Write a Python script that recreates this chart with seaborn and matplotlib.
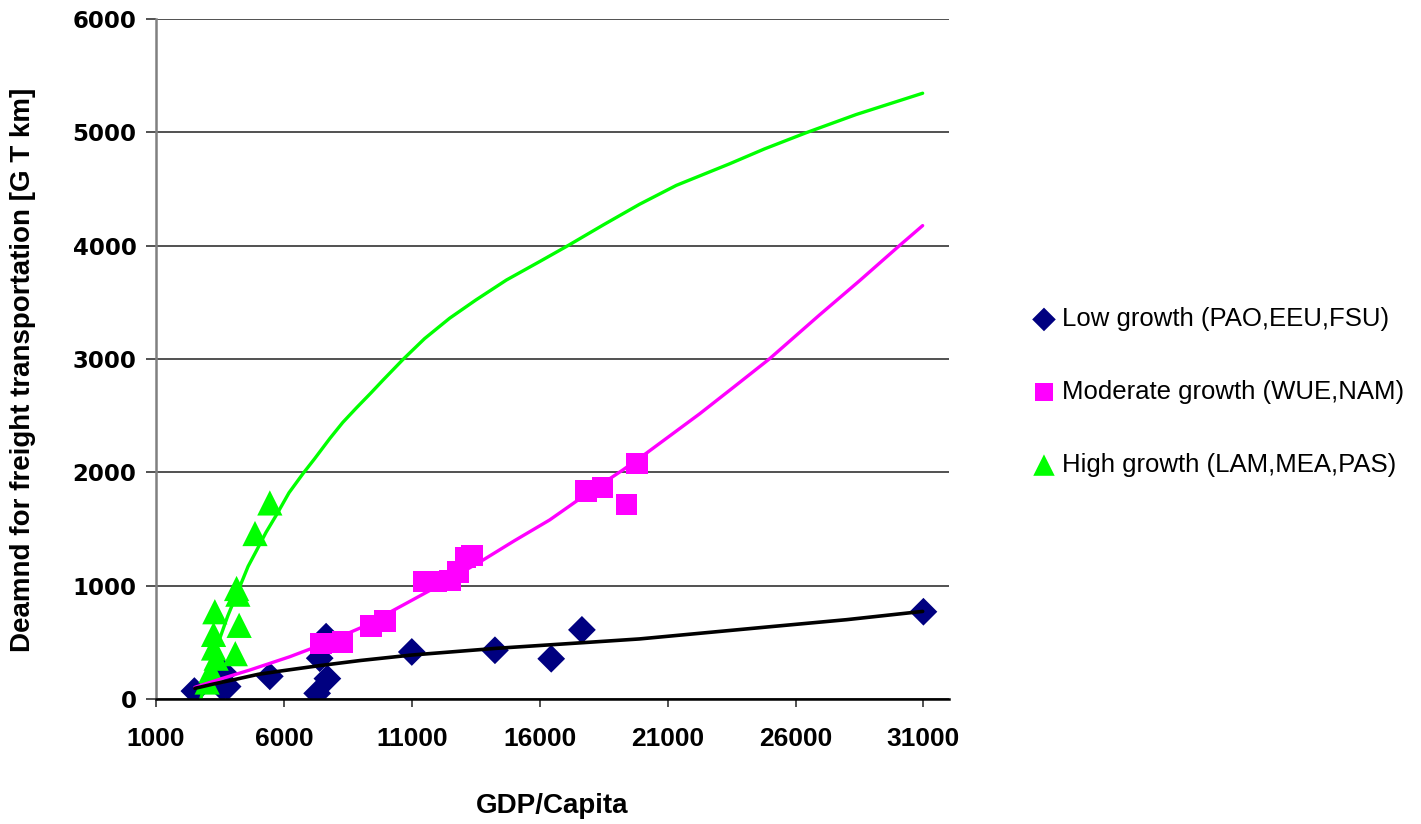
import matplotlib
matplotlib.use("Agg")
import matplotlib.pyplot as plt
import seaborn as sns
import pandas as pd

# ---- data ----
low_x = [2500, 3600, 3650, 3800, 5450, 7300, 7400, 7650, 7700, 11000, 14250, 16450, 17650, 31000]
low_y = [70, 100, 230, 110, 200, 50, 360, 550, 180, 415, 430, 355, 610, 770]

mod_x = [7450, 8300, 9400, 9950, 11450, 11950, 12500, 12800, 13100, 13350, 17800, 18450, 19400, 19800]
mod_y = [490, 505, 645, 690, 1035, 1035, 1045, 1120, 1250, 1265, 1835, 1865, 1715, 2080]

high_x = [3000, 3150, 3250, 3250, 3300, 3350, 4100, 4150, 4200, 4250, 4870, 5450]
high_y = [150, 250, 450, 570, 770, 360, 400, 975, 925, 650, 1460, 1730]

# trend lines
low_fit_x = [2520, 3200, 4000, 5000, 5970, 7410, 9000, 11000, 14300, 17690, 19900, 22500,
             25110, 28000, 30970]
low_fit_y = [94, 130, 168, 218, 250, 295, 340, 388, 447, 497, 530, 585, 640, 700, 773]

mod_fit_x = [2520, 3500, 4670, 6230, 7270, 8200, 9100, 10660, 12220, 13790, 15000, 16390,
             17690, 19250, 20170, 22250, 23600, 24980, 26940, 28500, 30060, 30970]
mod_fit_y = [103, 175, 256, 373, 462, 550, 638, 829, 1021, 1227, 1395, 1580,
             1786, 2021, 2169, 2516, 2755, 3001, 3389, 3690, 4000, 4177]

high_fit_x = [2750, 3000, 3370, 3800, 4220, 4600, 4930, 5300, 5710, 6200, 6750, 7200, 7800,
              8300, 8840, 9400, 9880, 10660, 11500, 12480, 13500, 14700, 16000, 17100,
              18500, 19900, 21340, 23420, 24790, 26410, 28370, 30970]
high_fit_y = [0, 200, 455, 730, 960, 1170, 1310, 1470, 1625, 1820, 1990, 2120, 2300,
              2440, 2570, 2700, 2815, 2997, 3180, 3360, 3520, 3697, 3860, 4000,
              4185, 4365, 4532, 4722, 4854, 4996, 5157, 5345]

series_labels = ["Low growth (PAO,EEU,FSU)",
                 "Moderate growth (WUE,NAM)",
                 "High growth (LAM,MEA,PAS)"]
x_ticks = [1000, 6000, 11000, 16000, 21000, 26000, 31000]
y_ticks = [0, 1000, 2000, 3000, 4000, 5000, 6000]
x_label = "GDP/Capita"
y_label = "Deamnd for freight transportation [G T km]"

# ---- styling ----
sns.set_style("white")
plt.rcParams["font.family"] = ["Liberation Sans", "DejaVu Sans"]
plt.rcParams["text.color"] = "black"
plt.rcParams["axes.labelcolor"] = "black"
plt.rcParams["xtick.color"] = "black"
plt.rcParams["ytick.color"] = "black"

NAVY = "#000080"
MAGENTA = "#FF00FF"
GREEN = "#00FF00"

fig = plt.figure(figsize=(14.21, 8.24), dpi=100)
ax = fig.add_axes([156 / 1421, 1 - 699 / 824, (949 - 156) / 1421, (699 - 19) / 824])

df_low = pd.DataFrame({"x": low_x, "y": low_y})
df_mod = pd.DataFrame({"x": mod_x, "y": mod_y})
df_high = pd.DataFrame({"x": high_x, "y": high_y})

sns.scatterplot(data=df_low, x="x", y="y", ax=ax, marker="D", s=200, color=NAVY,
                edgecolor="none", linewidth=0, label=series_labels[0], zorder=3)
sns.scatterplot(data=df_mod, x="x", y="y", ax=ax, marker="s", s=240, color=MAGENTA,
                edgecolor="none", linewidth=0, label=series_labels[1], zorder=3)
sns.scatterplot(data=df_high, x="x", y="y", ax=ax, marker="^", s=330, color=GREEN,
                edgecolor="none", linewidth=0, label=series_labels[2], zorder=3)

sns.lineplot(x=high_fit_x, y=high_fit_y, ax=ax, color=GREEN, lw=2.4, legend=False,
             sort=False, estimator=None, zorder=4)
sns.lineplot(x=mod_fit_x, y=mod_fit_y, ax=ax, color=MAGENTA, lw=2.4, legend=False,
             sort=False, estimator=None, zorder=4)
sns.lineplot(x=low_fit_x, y=low_fit_y, ax=ax, color="black", lw=2.6, legend=False,
             sort=False, estimator=None, zorder=5)

ax.set_xlim(1000, 32000)
ax.set_ylim(0, 6000)
ax.set_xticks(x_ticks)
ax.set_yticks(y_ticks)
ax.set_xticklabels([str(v) for v in x_ticks])
ax.set_yticklabels([str(v) for v in y_ticks])

# gridlines
ax.yaxis.grid(True, color="#333333", lw=1.2)
ax.xaxis.grid(False)
ax.set_axisbelow(True)

for s in ["top", "right"]:
    ax.spines[s].set_visible(False)
ax.spines["left"].set_color("#808080")
ax.spines["left"].set_linewidth(1.8)
ax.spines["bottom"].set_color("black")
ax.spines["bottom"].set_linewidth(1.8)
ax.spines["bottom"].set_zorder(6)

ax.tick_params(axis="y", direction="out", length=7, width=1.2, color="#333333", pad=7,
               left=True, labelcolor="black")
ax.tick_params(axis="x", direction="out", length=6, width=1.2, color="#333333", pad=14,
               bottom=True, labelcolor="black")

for t in ax.get_yticklabels():
    t.set_fontfamily("DejaVu Sans")
    t.set_fontweight("bold")
    t.set_fontsize(16.5)
for t in ax.get_xticklabels():
    t.set_fontfamily("Liberation Sans")
    t.set_fontweight("bold")
    t.set_fontsize(19)

ax.set_xlabel(x_label, fontsize=20, fontweight="bold", fontfamily="Liberation Sans",
              color="black")
ax.set_ylabel(y_label, fontsize=20, fontweight="bold", fontfamily="Liberation Sans",
              color="black")
ax.xaxis.set_label_coords(0.5, (699 - 793) / 680)
ax.yaxis.set_label_coords((36 - 156) / 793, (699 - 370) / 680)

leg = ax.legend(loc="center left", bbox_to_anchor=(1033.7 / 1421, 1 - 392 / 824),
                bbox_transform=fig.transFigure, frameon=False, fontsize=18.5,
                handlelength=0.8, handletextpad=0.3, labelspacing=1.9,
                borderpad=0, borderaxespad=0, markerscale=0.85)
for txt in leg.get_texts():
    txt.set_color("black")

fig.savefig("out.png", dpi=100)
